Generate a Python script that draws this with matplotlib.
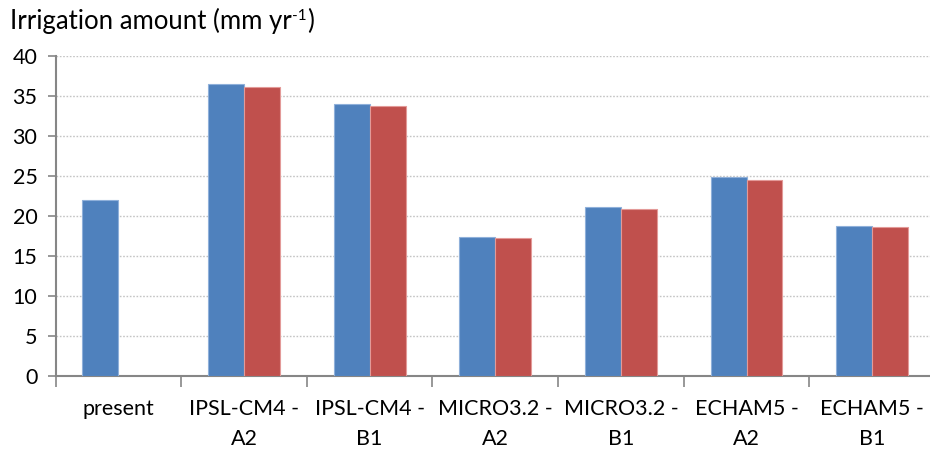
import matplotlib
matplotlib.use("Agg")
import matplotlib.pyplot as plt
import numpy as np

plt.rcParams["font.family"] = ["Lato", "DejaVu Sans"]

categories = ["present", "IPSL-CM4 -\nA2", "IPSL-CM4 -\nB1", "MICRO3.2 -\nA2",
              "MICRO3.2 -\nB1", "ECHAM5 -\nA2", "ECHAM5 -\nB1"]
series_a = [22.0, 36.5, 34.0, 17.4, 21.2, 24.9, 18.8]
series_b = [np.nan, 36.1, 33.8, 17.3, 20.9, 24.5, 18.7]
y_ticks = [0, 5, 10, 15, 20, 25, 30, 35, 40]

W, H = 930, 450
fig = plt.figure(figsize=(W / 100, H / 100), dpi=100)
left, right, bottom, top = 55.5, 935, 376.3, 56
ax = fig.add_axes([left / W, 1 - bottom / H, (right - left) / W, (bottom - top) / H])

x = np.arange(len(categories))
bw = 0.286
blue = "#4F81BD"
red = "#C0504D"
ax.bar(x - bw / 2, series_a, width=bw, color=blue, edgecolor="#8FB0DA",
       linewidth=0.8, zorder=3)
ax.bar(x + bw / 2, series_b, width=bw, color=red, edgecolor="#E39A98",
       linewidth=0.8, zorder=3)

ax.set_xlim(-0.5, len(categories) - 0.5)
ax.set_ylim(0, 40)
ax.set_yticks(y_ticks)
ax.yaxis.grid(True, color="#C4C4C4", linestyle=(0, (1.2, 1.2)), linewidth=1.0, zorder=0)
ax.set_axisbelow(True)

for s in ["top", "right"]:
    ax.spines[s].set_visible(False)
for s in ["left", "bottom"]:
    ax.spines[s].set_color("#868686")
    ax.spines[s].set_linewidth(1.5)

fs = 15.5
ax.tick_params(axis="y", length=6, width=1.2, color="#868686", labelsize=fs,
               pad=7, labelcolor="black")
ax.set_xticks(np.arange(len(categories) + 1) - 0.5, minor=False)
ax.set_xticklabels([])
ax.tick_params(axis="x", which="major", length=8, width=1.2, color="#868686")
ax.set_xticks(x, minor=True)
ax.set_xticklabels(categories, minor=True, fontsize=fs, linespacing=1.65,
                   va="top")
ax.tick_params(axis="x", which="minor", length=0, pad=16)

# Axis title with a raised "-1" exponent, assembled from three pieces
renderer = fig.canvas.get_renderer()
tfs = 18.5
t1 = fig.text(10 / W, 1 - 29 / H, "Irrigation amount (mm yr", fontsize=tfs,
              ha="left", va="baseline")
bb = t1.get_window_extent(renderer)
t2 = fig.text(bb.x1 / W + 0.5 / W, 1 - 20 / H, "-1", fontsize=tfs * 0.6,
              ha="left", va="baseline")
bb2 = t2.get_window_extent(renderer)
fig.text(bb2.x1 / W + 0.5 / W, 1 - 29 / H, ")", fontsize=tfs,
         ha="left", va="baseline")

fig.savefig("out.png", dpi=100)
